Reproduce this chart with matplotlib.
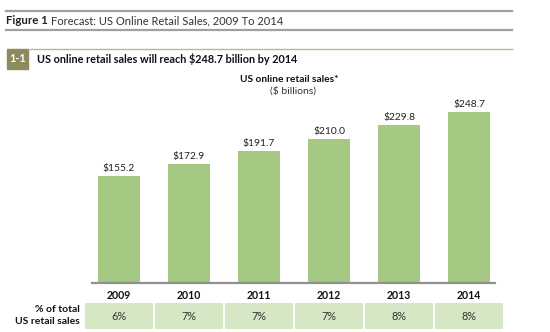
import matplotlib
matplotlib.use("Agg")
import matplotlib.pyplot as plt
from matplotlib.patches import Rectangle

years = ["2009", "2010", "2011", "2012", "2013", "2014"]
sales = [155.2, 172.9, 191.7, 210.0, 229.8, 248.7]
share = ["6%", "7%", "7%", "7%", "8%", "8%"]

plt.rcParams['font.family'] = ['Lato', 'DejaVu Sans']

W, H = 550, 332
fig = plt.figure(figsize=(5.5, 3.32), dpi=100)

def fx(px):
    return px / W

def fy(py):
    return 1 - py / H

# header lines and titles
fig.add_artist(plt.Line2D([fx(6), fx(512)], [fy(11), fy(11)], color="#a0a0a0", lw=1.6))
fig.add_artist(plt.Line2D([fx(6), fx(512)], [fy(30), fy(30)], color="#a0a0a0", lw=1.6))
fig.text(fx(6), fy(21), "Figure 1", fontsize=8.3, fontweight="bold", va="center", color="#222222")
fig.text(fx(51), fy(21), "Forecast: US Online Retail Sales, 2009 To 2014", fontsize=8,
         va="center", color="#333333")

fig.add_artist(plt.Line2D([fx(28), fx(512)], [fy(49), fy(49)], color="#b8b890", lw=1.0))
fig.add_artist(Rectangle((fx(7), fy(69)), fx(21), 20 / H, color="#8c8a5e", transform=fig.transFigure))
fig.text(fx(17.5), fy(59), "1-1", fontsize=7.8, fontweight="bold", color="white", ha="center", va="center")
fig.text(fx(37), fy(59), "US online retail sales will reach $248.7 billion by 2014", fontsize=7.8,
         fontweight="bold", va="center", color="#111111")

fig.text(fx(289), fy(80), "US online retail sales*", fontsize=7.3, fontweight="bold",
         ha="center", va="center", color="#111111")
fig.text(fx(293), fy(91), "($ billions)", fontsize=7.5, ha="center", va="center", color="#333333")

# bars
scale = 0.688
top_px = 100
ax = fig.add_axes([fx(84), fy(283), fx(504) - fx(84), (283 - top_px) / H])
x = range(len(years))
ax.bar(x, sales, width=0.6, color="#a5c882")
for i, v in zip(x, sales):
    ax.text(i, v + 4, f"${v:.1f}", ha="center", va="bottom", fontsize=7.4, color="#222222")
ax.set_xlim(-0.5, 5.5)
ax.set_ylim(0, (283 - top_px) / scale)
ax.axhline(0, xmin=8 / 420, xmax=411 / 420, color="#909090", lw=1.6, clip_on=False)
ax.set_xticks(list(x))
ax.set_xticklabels(years, fontsize=7.6, fontweight="bold", color="#111111")
ax.tick_params(axis="x", length=0, pad=5)
ax.set_yticks([])
for s in ax.spines.values():
    s.set_visible(False)

# share row
tx = fig.add_axes([fx(84), fy(329), fx(504) - fx(84), 26 / H])
tx.bar(x, [1] * len(years), width=0.985, color="#d5e7c5")
for i, s in zip(x, share):
    tx.text(i, 0.5, s, ha="center", va="center", fontsize=7.8, color="#333333")
tx.set_xlim(-0.5, 5.5)
tx.set_ylim(0, 1)
tx.axis("off")

fig.text(fx(80), fy(310), "% of total", fontsize=7.5, fontweight="bold", ha="right", va="center", color="#111111")
fig.text(fx(80), fy(322), "US retail sales", fontsize=7.5, fontweight="bold", ha="right", va="center", color="#111111")

fig.savefig("out.png", dpi=100, facecolor="white")
